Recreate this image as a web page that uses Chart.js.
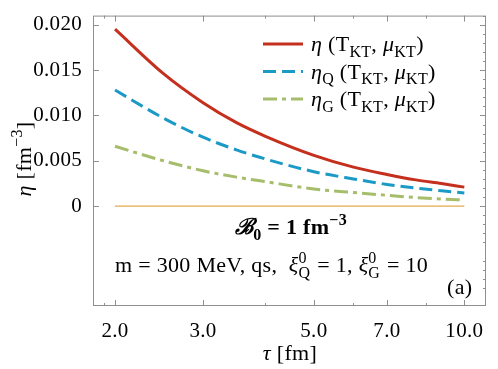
<!DOCTYPE html>
<html>
<head>
<meta charset="utf-8">
<script src="https://cdn.jsdelivr.net/npm/chart.js@4/dist/chart.umd.min.js"></script>
<style>
html, body { margin: 0; padding: 0; background: #fff; }
#wrap { width: 498px; height: 369px; }
</style>
</head>
<body>
<div id="wrap"><canvas id="cht"></canvas></div>
<script>
// values
var tau      = [2, 2.5, 3, 3.5, 4, 5, 6, 7, 8, 9, 10];
var etaTotal = [0.0195, 0.0146, 0.0114, 0.0092, 0.0077, 0.0056, 0.0043, 0.0035, 0.0029, 0.0025, 0.0021];
var etaQ     = [0.0128, 0.0097, 0.0076, 0.0062, 0.0052, 0.0038, 0.0030, 0.0024, 0.0020, 0.0017, 0.00145];
var etaG     = [0.0066, 0.0050, 0.0039, 0.0032, 0.0027, 0.0019, 0.0015, 0.0012, 0.00095, 0.0008, 0.00068];
var zeroLine = [2, 10];

var xTicks = [2, 3, 5, 7, 10];
var xMinor = [1.9, 4, 6, 8.4];
var yTicks = [0, 0.005, 0.010, 0.015, 0.020];

var red = '#c4301d', blue = '#1b9ac6', green = '#a6bd6c', orange = '#e4a84e';
var SERIF = '"Liberation Serif", "DejaVu Serif", serif';
var FS = 22;

function pts(ys) {
    return tau.map(function (t, i) { return { x: t, y: ys[i] }; });
}

function fontOf(p, size) {
    return (p.i ? 'italic ' : '') + (p.b ? 'bold ' : '') + size + 'px ' + SERIF;
}

// draw a run of text pieces with sub/superscripts, y is the baseline
function drawRich(ctx, parts, x, y, size, align) {
    var small = Math.round(size * 0.72);
    var total = 0;
    parts.forEach(function (p) {
        if (p.stack) {
            ctx.font = fontOf(p, small);
            p.w = Math.max(ctx.measureText(p.stack[0]).width, ctx.measureText(p.stack[1]).width) + 1;
        } else {
            ctx.font = fontOf(p, (p.sub || p.sup) ? small : size);
            p.w = ctx.measureText(p.t).width;
        }
        total += p.w;
    });
    var cx = align === 'center' ? x - total / 2 : x;
    ctx.textAlign = 'left';
    ctx.textBaseline = 'alphabetic';
    parts.forEach(function (p) {
        if (p.stack) {
            ctx.font = fontOf(p, small);
            ctx.fillText(p.stack[0], cx, y + size * 0.28);
            ctx.fillText(p.stack[1], cx, y - size * 0.42);
        } else {
            ctx.font = fontOf(p, (p.sub || p.sup) ? small : size);
            var dy = p.sub ? size * 0.25 : (p.sup ? -size * 0.4 : 0);
            ctx.fillText(p.t, cx, y + dy);
        }
        cx += p.w;
    });
}

var legendRows = [
    { color: red, dash: [], parts: [{ t: 'η', i: true }, { t: ' (T' }, { t: 'KT', sub: true }, { t: ', ' }, { t: 'μ', i: true }, { t: 'KT', sub: true }, { t: ')' }] },
    { color: blue, dash: [13, 6], parts: [{ t: 'η', i: true }, { t: 'Q', sub: true }, { t: ' (T' }, { t: 'KT', sub: true }, { t: ', ' }, { t: 'μ', i: true }, { t: 'KT', sub: true }, { t: ')' }] },
    { color: green, dash: [14, 5, 4, 5], parts: [{ t: 'η', i: true }, { t: 'G', sub: true }, { t: ' (T' }, { t: 'KT', sub: true }, { t: ', ' }, { t: 'μ', i: true }, { t: 'KT', sub: true }, { t: ')' }] }
];

var decor = {
    id: 'decor',
    beforeDraw: function (chart) {
        chart.ctx.letterSpacing = '0.3px';
    },
    afterDatasetsDraw: function (chart) {
        var ctx = chart.ctx, a = chart.chartArea;
        var xs = chart.scales.x, ys = chart.scales.y;
        ctx.save();
        ctx.letterSpacing = '0.3px';

        // frame and ticks
        ctx.strokeStyle = '#8f8f8f';
        ctx.lineWidth = 1;
        ctx.strokeRect(a.left + 0.5, a.top + 0.5, a.right - a.left - 1, a.bottom - a.top - 1);
        ctx.beginPath();
        xTicks.forEach(function (v) {
            var px = Math.round(xs.getPixelForValue(v)) + 0.5;
            ctx.moveTo(px, a.bottom); ctx.lineTo(px, a.bottom - 6);
            ctx.moveTo(px, a.top); ctx.lineTo(px, a.top + 6);
        });
        xMinor.forEach(function (v) {
            var px = Math.round(xs.getPixelForValue(v)) + 0.5;
            ctx.moveTo(px, a.bottom); ctx.lineTo(px, a.bottom - 3);
            ctx.moveTo(px, a.top); ctx.lineTo(px, a.top + 3);
        });
        yTicks.forEach(function (v) {
            var py = Math.round(ys.getPixelForValue(v)) + 0.5;
            ctx.moveTo(a.left, py); ctx.lineTo(a.left + 6, py);
            ctx.moveTo(a.right, py); ctx.lineTo(a.right - 6, py);
        });
        for (var k = -10; k <= 21; k++) {
            if (k % 5 === 0) continue;
            var py = Math.round(ys.getPixelForValue(k / 1000)) + 0.5;
            ctx.moveTo(a.right, py); ctx.lineTo(a.right - 3, py);
        }
        ctx.stroke();

        // legend
        ctx.fillStyle = '#000';
        legendRows.forEach(function (r, i) {
            var y = 44 + i * 27.5;
            ctx.strokeStyle = r.color;
            ctx.lineWidth = 3;
            ctx.setLineDash(r.dash);
            ctx.beginPath();
            ctx.moveTo(263, y); ctx.lineTo(303, y);
            ctx.stroke();
            ctx.setLineDash([]);
            drawRich(ctx, r.parts, 311, y + 7, FS, 'left');
        });

        // annotations
        drawRich(ctx, [{ t: 'ℬ', b: true, i: true }, { t: '0', b: true, sub: true }, { t: ' = 1 fm', b: true }, { t: '−3', b: true, sup: true }], 291, 234, FS, 'center');
        drawRich(ctx, [{ t: 'm = 300 MeV, qs,  ' }, { t: 'ξ', i: true }, { stack: ['Q', '0'] }, { t: ' = 1, ' }, { t: 'ξ', i: true }, { stack: ['G', '0'] }, { t: ' = 10' }], 115, 272, FS, 'left');
        drawRich(ctx, [{ t: '(a)' }], 447, 294, FS, 'left');

        // axis titles
        drawRich(ctx, [{ t: 'τ', i: true }, { t: ' [fm]' }], 290, 360, FS, 'center');
        ctx.translate(31, 159);
        ctx.rotate(-Math.PI / 2);
        drawRich(ctx, [{ t: 'η', i: true }, { t: ' [fm' }, { t: '−3', sup: true }, { t: ']' }], 0, 0, FS, 'center');
        ctx.restore();
    }
};

var chI = document.getElementById('cht');
var cht = new Chart(chI, {
    type: 'scatter',
    data: {
        datasets: [
            { label: 'zero', data: zeroLine.map(function (t) { return { x: t, y: 0 }; }), showLine: true, borderColor: orange, borderWidth: 1.3, pointRadius: 0 },
            { label: 'eta_G', data: pts(etaG), showLine: true, borderColor: green, borderWidth: 3, borderDash: [14, 5, 4, 5], pointRadius: 0, cubicInterpolationMode: 'monotone' },
            { label: 'eta_Q', data: pts(etaQ), showLine: true, borderColor: blue, borderWidth: 3, borderDash: [13, 6], pointRadius: 0, cubicInterpolationMode: 'monotone' },
            { label: 'eta', data: pts(etaTotal), showLine: true, borderColor: red, borderWidth: 3, pointRadius: 0, cubicInterpolationMode: 'monotone' }
        ]
    },
    options: {
        responsive: true,
        maintainAspectRatio: false,
        animation: false,
        layout: { padding: { left: 0, top: 12, right: 12, bottom: 0 } },
        plugins: { legend: { display: false }, tooltip: { enabled: false } },
        scales: {
            x: {
                type: 'logarithmic',
                min: 1.807,
                max: 11.05,
                grid: { display: false },
                border: { display: false },
                afterBuildTicks: function (s) { s.ticks = xTicks.map(function (v) { return { value: v }; }); },
                afterFit: function (s) { s.height = 63; },
                ticks: {
                    autoSkip: false,
                    maxRotation: 0,
                    padding: 5,
                    color: '#000',
                    font: { family: SERIF, size: 21 },
                    callback: function (v) { return Number(v).toFixed(1); }
                }
            },
            y: {
                type: 'linear',
                min: -0.011,
                max: 0.021,
                grid: { display: false },
                border: { display: false },
                afterBuildTicks: function (s) { s.ticks = yTicks.map(function (v) { return { value: v }; }); },
                afterFit: function (s) { s.width = 93; },
                ticks: {
                    padding: 3,
                    color: '#000',
                    font: { family: SERIF, size: 21 },
                    callback: function (v) { return v === 0 ? '0' : v.toFixed(3); }
                }
            }
        }
    },
    plugins: [decor]
});
</script>
</body>
</html>
